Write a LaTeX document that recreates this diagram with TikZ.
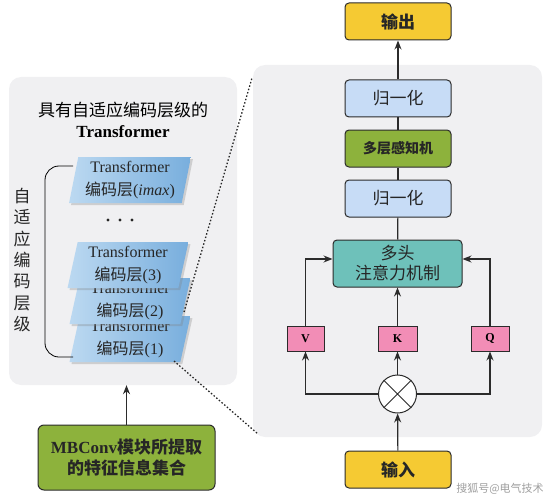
\documentclass[tikz,border=0pt]{standalone}
\usepackage{fontspec}
\setmainfont{Liberation Serif}
\newfontfamily\cjk{Noto Sans CJK SC}
\usetikzlibrary{arrows.meta,shapes.geometric,shadows,calc}
\definecolor{ylw}{HTML}{F5CA33}
\definecolor{nrm}{HTML}{C7DCF6}
\definecolor{mlp}{HTML}{8DB23C}
\definecolor{attc}{HTML}{6EC1BA}
\definecolor{pnk}{HTML}{F28DB6}
\definecolor{pnl}{HTML}{F0F0F2}
\definecolor{edge}{HTML}{2B2B2B}
\definecolor{lyl}{HTML}{BCD9F1}
\definecolor{lyr}{HTML}{78AEDD}
\begin{document}
\begin{tikzpicture}[x=1pt,y=-1pt,
 box/.style={draw=edge, line width=1pt, rounded corners=4pt, inner sep=0pt, minimum width=106pt, minimum height=37pt, align=center, text=black!85},
 lbl/.style={font=\fontsize{17}{20}\selectfont\cjk},
 vkq/.style={draw=edge, line width=1pt, fill=pnk, minimum height=25pt, inner sep=0pt, font=\fontsize{12}{14}\selectfont\bfseries},
 conn/.style={line width=1.2pt, draw=edge},
 arr/.style={conn, -{Stealth[length=9pt,width=7pt]}},
 layer/.style={trapezium, trapezium left angle=78, trapezium right angle=102, trapezium stretches=true, minimum width=122pt, minimum height=46pt, inner sep=0pt, left color=lyl, right color=lyr, drop shadow={opacity=0.3,shadow xshift=2pt,shadow yshift=-2pt}, align=center, font=\fontsize{16}{23}\selectfont, text=black!85},
 dotl/.style={line width=1.3pt, draw=black!85, dash pattern=on 1.5pt off 2pt},
]
\useasboundingbox (0,0) rectangle (551,500);
% panels
\node[fill=pnl, rounded corners=12pt, minimum width=228pt, minimum height=308pt, inner sep=0pt] (lp) at (123,231) {};
\node[fill=pnl, rounded corners=12pt, minimum width=289pt, minimum height=372pt, inner sep=0pt] (rp) at (397.5,251) {};

% left panel content
\node[lbl] (t1) at (123,110) {具有自适应编码层级的};
\node[font=\fontsize{17}{20}\selectfont\bfseries] (t2) at (123,132) {Transformer};
\node[layer] (L1) at (130,339) {Transformer\\{\cjk 编码层}(1)};
\node[layer] (L2) at (130,301) {Transformer\\{\cjk 编码层}(2)};
\node[layer] (L3) at (128,265) {Transformer\\{\cjk 编码层}(3)};
\node[layer] (L4) at (130,180) {Transformer\\{\cjk 编码层}(\textit{imax})};
\fill[black!85] (108,220) circle (1.6) (120,220) circle (1.6) (132,220) circle (1.6);
\draw[line width=0.8pt, rounded corners=14pt] (73,166) -- (45,166) -- (45,357) -- (73,357);
\node[font=\fontsize{17}{21.3}\selectfont\cjk, align=center, text=black!85] (vt) at (22,260) {自\\适\\应\\编\\码\\层\\级};

% MBConv
\node[box, fill=mlp, rounded corners=6pt, minimum width=177pt, minimum height=65pt, font=\fontsize{17}{21.5}\selectfont\bfseries] (mb) at (126.5,457.5) {MBConv{\cjk 模块所提取}\\{\cjk 的特征信息集合}};
\draw[arr] (mb.north) -- (mb.north |- lp.south);

% right side
\node[box, fill=ylw, font=\fontsize{17}{20}\selectfont\cjk\bfseries] (out) at (398,21.5) {输出};
\node[box, fill=nrm, font=\fontsize{17}{20}\selectfont\cjk] (n2) at (398,98.5) {归一化};
\node[box, fill=mlp, font=\fontsize{14}{16}\selectfont\cjk\bfseries] (ml) at (398,148.5) {多层感知机};
\node[box, fill=nrm, font=\fontsize{17}{20}\selectfont\cjk] (n1) at (398,198.5) {归一化};
\node[box, fill=attc, minimum width=129pt, minimum height=47pt, font=\fontsize{17}{20}\selectfont\cjk] (at) at (397.5,263.5) {多头\\注意力机制};
\node[vkq, minimum width=37pt] (V) at (305.5,338.5) {V};
\node[vkq, minimum width=39pt] (K) at (397.5,338.5) {K};
\node[vkq, minimum width=38pt] (Q) at (490,338.5) {Q};
\node[circle, draw=edge, line width=1pt, fill=white, minimum size=38pt, inner sep=0pt] (cx) at (397.5,394) {};
\draw[line width=0.8pt, draw=edge] (cx.north west) -- (cx.south east) (cx.north east) -- (cx.south west);
\node[box, fill=ylw, font=\fontsize{17}{20}\selectfont\cjk\bfseries] (in) at (398,469.5) {输入};

\draw[arr] (n2) -- (out);
\draw[conn] (ml) -- (n2);
\draw[conn] (n1) -- (ml);
\draw[conn] (at) -- (n1);
\draw[arr] (K) -- (at);
\draw[arr] (V.north) |- ([yshift=4.5pt]at.west);
\draw[arr] (Q.north) |- ([yshift=4.5pt]at.east);
\draw[arr] (cx) -- (K);
\draw[arr] (cx.west) -| (V.south);
\draw[arr] (cx.east) -| (Q.south);
\draw[arr] (in) -- (cx);

% dotted zoom lines
\coordinate (d1) at (184,312);
\coordinate (d2) at (252,78);
\coordinate (d3) at (174,361);
\coordinate (d4) at (258,434);
\draw[dotl] (d1) -- (d2);
\draw[dotl] (d3) -- (d4);

\node[font=\fontsize{11}{12}\selectfont\cjk, text=gray!75] (wm) at (500,489) {搜狐号@电气技术};
\end{tikzpicture}
\end{document}
